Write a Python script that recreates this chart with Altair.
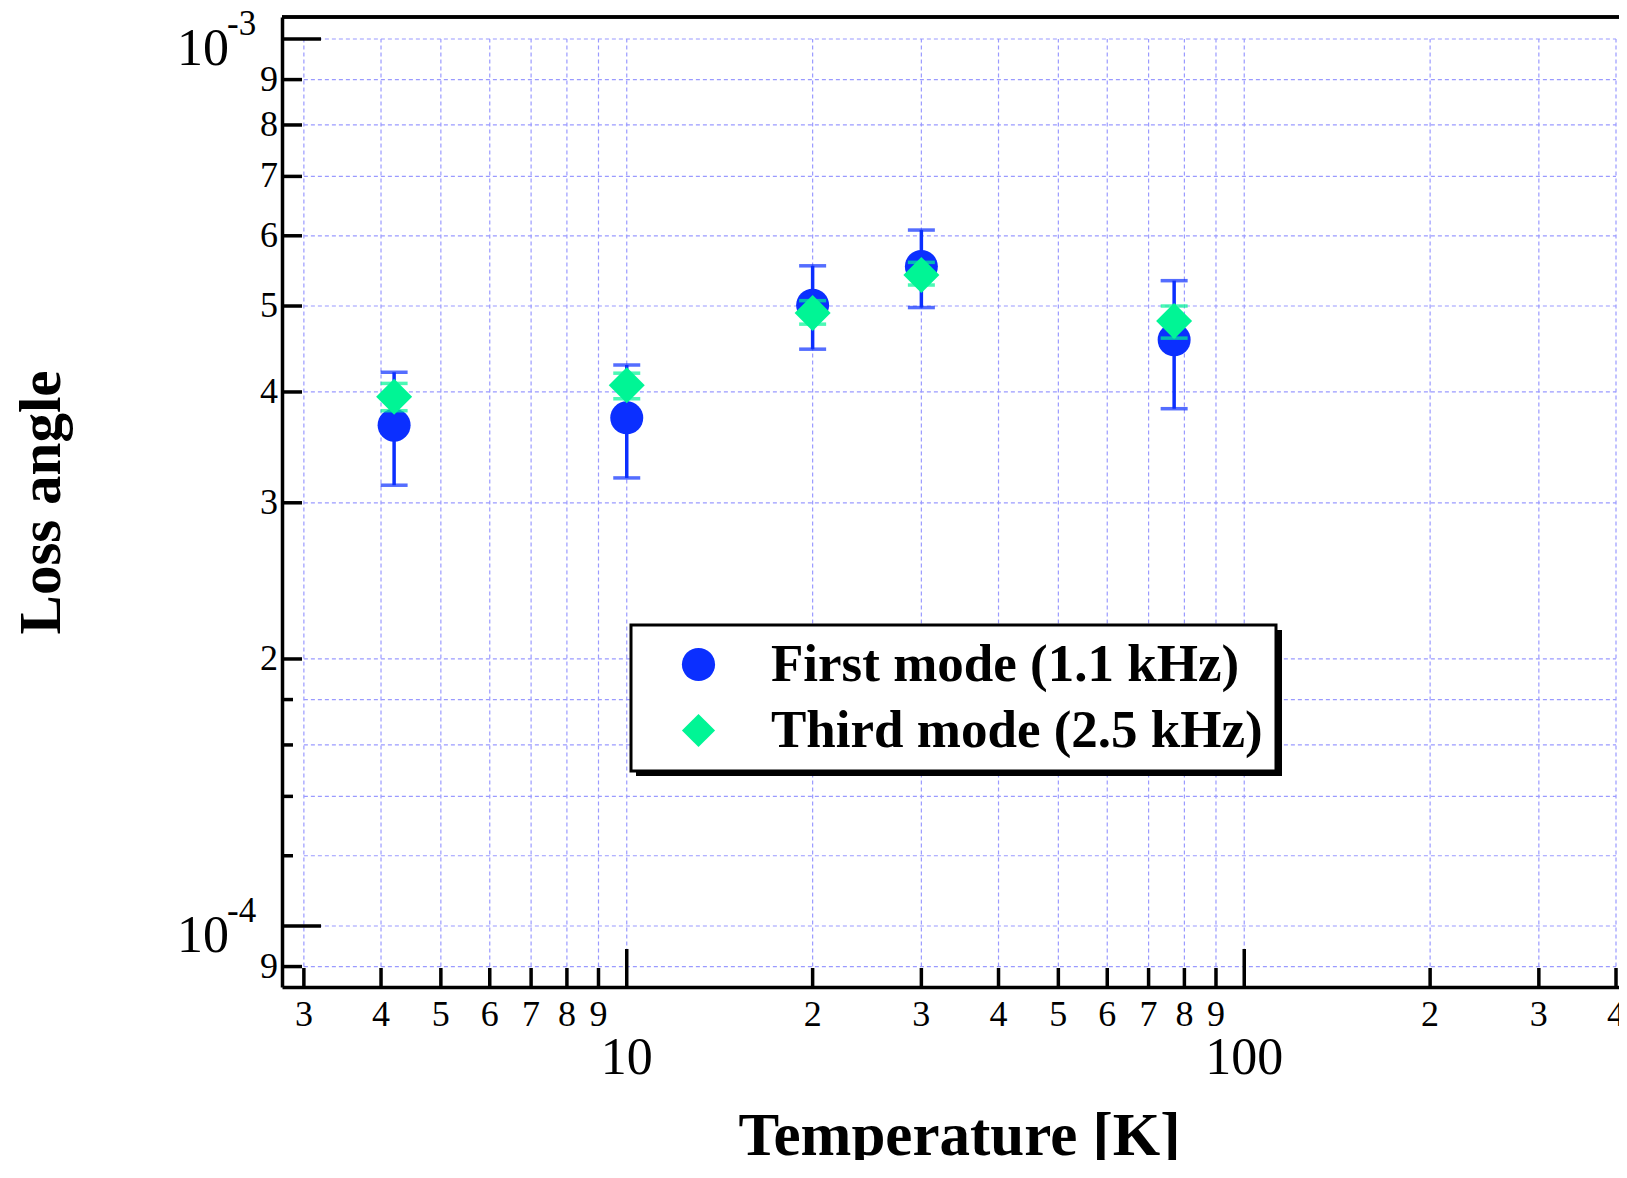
import altair as alt
import pandas as pd

# ---------------- data ----------------
temperature = [4.2, 10, 20, 30, 77]
first_mode = [3.67e-4, 3.74e-4, 5.01e-4, 5.54e-4, 4.58e-4]
first_upper = [4.21e-4, 4.29e-4, 5.55e-4, 6.09e-4, 5.34e-4]
first_lower = [3.14e-4, 3.20e-4, 4.47e-4, 4.98e-4, 3.83e-4]
third_mode = [3.95e-4, 4.07e-4, 4.91e-4, 5.42e-4, 4.81e-4]
third_upper = [4.09e-4, 4.20e-4, 5.07e-4, 5.60e-4, 5.00e-4]
third_lower = [3.81e-4, 3.93e-4, 4.77e-4, 5.28e-4, 4.60e-4]

series_names = ["First mode (1.1 kHz)", "Third mode (2.5 kHz)"]
series_colors = ["#0b2fff", "#00f595"]
series_shapes = ["circle", "diamond"]

x_minor_ticks = [3, 4, 5, 6, 7, 8, 9, 20, 30, 40, 50, 60, 70, 80, 90, 200, 300, 400]
x_minor_labels = ["3", "4", "5", "6", "7", "8", "9", "2", "3", "4", "5", "6", "7", "8", "9", "2", "3", "4"]
x_major_ticks = [10, 100]
x_major_labels = ["10", "100"]

y_minor_ticks = [9e-5, 2e-4, 3e-4, 4e-4, 5e-4, 6e-4, 7e-4, 8e-4, 9e-4]
y_minor_labels = ["9", "2", "3", "4", "5", "6", "7", "8", "9"]
y_small_ticks = [1.2e-4, 1.4e-4, 1.6e-4, 1.8e-4]
y_major_ticks = [1e-4, 1e-3]
y_major_exponents = ["-4", "-3"]

x_grid = [3, 4, 5, 6, 7, 8, 9, 10, 20, 30, 40, 50, 60, 70, 80, 90, 100, 200, 300, 400]
y_grid = [9e-5, 1e-4, 1.2e-4, 1.4e-4, 1.6e-4, 1.8e-4, 2e-4, 3e-4, 4e-4, 5e-4,
          6e-4, 7e-4, 8e-4, 9e-4, 1e-3]

# ---------------- layout ----------------
W, H = 1337, 970
FONT = "Liberation Serif"
GRID_COLOR = "#9a9aff"

xscale = alt.Scale(type="log", domain=[2.765, 404.5], nice=False, zero=False)
yscale = alt.Scale(type="log", domain=[8.535e-5, 1.0588e-3], nice=False, zero=False)

xaxis = alt.Axis(title="Temperature [K]", labels=False, ticks=False, grid=False,
                 domain=True, domainColor="black", domainWidth=3.5,
                 titleFont=FONT, titleFontSize=61, titleFontWeight="bold", titleColor="black",
                 titleX=677, titleY=167, titleBaseline="alphabetic", titleAlign="center")
yaxis = alt.Axis(title="Loss angle", labels=False, ticks=False, grid=False,
                 domain=True, domainColor="black", domainWidth=3.5,
                 titleFont=FONT, titleFontSize=59, titleFontWeight="bold", titleColor="black",
                 titleX=-241, titleY=485, titleAngle=270, titleBaseline="middle",
                 titleAlign="center")


def X(field):
    return alt.X(field, type="quantitative", scale=xscale, axis=xaxis)


def Y(field):
    return alt.Y(field, type="quantitative", scale=yscale, axis=yaxis)


legend = alt.Legend(title=None, orient="none", legendX=349, legendY=608,
                    direction="vertical", fillColor="white", strokeColor="black",
                    padding=13, cornerRadius=0,
                    labelFont=FONT, labelFontSize=53, labelFontWeight="bold",
                    labelColor="black", labelLimit=1000, symbolSize=1100,
                    symbolStrokeWidth=0, symbolOpacity=1, symbolOffset=28,
                    labelOffset=46, rowPadding=12)

color = alt.Color("series:N", scale=alt.Scale(domain=series_names, range=series_colors),
                  legend=legend)
shape = alt.Shape("series:N", scale=alt.Scale(domain=series_names, range=series_shapes),
                  legend=legend)

# ---------------- tables ----------------
first_df = pd.DataFrame({"T": temperature, "val": first_mode, "hi": first_upper,
                         "lo": first_lower, "series": series_names[0]})
third_df = pd.DataFrame({"T": temperature, "val": third_mode, "hi": third_upper,
                         "lo": third_lower, "series": series_names[1]})


def caps(df):
    return pd.DataFrame({"T": list(df["T"]) * 2,
                         "cap": list(df["hi"]) + list(df["lo"]),
                         "series": list(df["series"]) * 2})


xgrid_df = pd.DataFrame({"v": x_grid, "lo": [y_grid[0]] * len(x_grid),
                         "hi": [y_grid[-1]] * len(x_grid)})
ygrid_df = pd.DataFrame({"v": y_grid, "lo": [x_grid[0]] * len(y_grid),
                         "hi": [x_grid[-1]] * len(y_grid)})
xminor_df = pd.DataFrame({"v": x_minor_ticks, "label": x_minor_labels})
xmajor_df = pd.DataFrame({"v": x_major_ticks, "label": x_major_labels})
yminor_df = pd.DataFrame({"v": y_minor_ticks, "label": y_minor_labels})
ysmall_df = pd.DataFrame({"v": y_small_ticks})
ymajor_df = pd.DataFrame({"v": y_major_ticks, "label": ["10"] * len(y_major_ticks),
                          "exp": y_major_exponents})

# ---------------- layers ----------------
grid_v = alt.Chart(xgrid_df).mark_rule(color=GRID_COLOR, strokeWidth=1.2, strokeDash=[4, 3]).encode(
    x=X("v"), y=Y("lo"), y2="hi")
grid_h = alt.Chart(ygrid_df).mark_rule(color=GRID_COLOR, strokeWidth=1.2, strokeDash=[4, 3]).encode(
    y=Y("v"), x=X("lo"), x2="hi")

TW = 3.5
xtick_minor = alt.Chart(xminor_df).mark_rule(color="black", strokeWidth=TW).encode(
    x=X("v"), y=alt.value(H), y2=alt.value(H - 19))
xtick_major = alt.Chart(xmajor_df).mark_rule(color="black", strokeWidth=TW).encode(
    x=X("v"), y=alt.value(H), y2=alt.value(H - 38))
ytick_minor = alt.Chart(yminor_df).mark_rule(color="black", strokeWidth=TW).encode(
    y=Y("v"), x=alt.value(0), x2=alt.value(20))
ytick_small = alt.Chart(ysmall_df).mark_rule(color="black", strokeWidth=TW).encode(
    y=Y("v"), x=alt.value(0), x2=alt.value(11))
ytick_major = alt.Chart(ymajor_df).mark_rule(color="black", strokeWidth=TW).encode(
    y=Y("v"), x=alt.value(0), x2=alt.value(39))

top_frame = alt.Chart(ymajor_df).mark_rule(color="black", strokeWidth=3.5).encode(
    x=alt.value(0), x2=alt.value(W), y=alt.value(0))

xlab_minor = alt.Chart(xminor_df).mark_text(font=FONT, fontSize=36, color="black",
                                            align="center", baseline="alphabetic").encode(
    x=X("v"), y=alt.value(H + 39), text="label:N")
xlab_major = alt.Chart(xmajor_df).mark_text(font=FONT, fontSize=52, color="black",
                                            align="center", baseline="alphabetic").encode(
    x=X("v"), y=alt.value(H + 87), text="label:N")
ylab_minor = alt.Chart(yminor_df).mark_text(font=FONT, fontSize=36, color="black",
                                            align="right", baseline="middle").encode(
    y=Y("v"), x=alt.value(-4), text="label:N")
ylab_major = alt.Chart(ymajor_df).mark_text(font=FONT, fontSize=52, color="black",
                                            align="right", baseline="alphabetic", dy=26).encode(
    y=Y("v"), x=alt.value(-53), text="label:N")
ylab_exp = alt.Chart(ymajor_df).mark_text(font=FONT, fontSize=35, color="black",
                                          align="left", baseline="alphabetic", dy=-4).encode(
    y=Y("v"), x=alt.value(-55), text="exp:N")

shadow = alt.Chart(ymajor_df).mark_rect(color="black").encode(
    x=alt.value(354), x2=alt.value(1000), y=alt.value(613), y2=alt.value(759))


def series_layers(df, size):
    stem = alt.Chart(df).mark_rule(strokeWidth=3.5).encode(
        x=X("T"), y=Y("lo"), y2="hi", color=color)
    cap = alt.Chart(caps(df)).mark_tick(orient="horizontal", size=27, thickness=3.5).encode(
        x=X("T"), y=Y("cap"), color=color)
    pts = alt.Chart(df).mark_point(filled=True, size=size, opacity=1, strokeWidth=0).encode(
        x=X("T"), y=Y("val"), color=color, shape=shape)
    return [stem, cap, pts]


layers = ([grid_v, grid_h, xtick_minor, xtick_major, ytick_minor, ytick_small, ytick_major,
           top_frame, shadow]
          + series_layers(first_df, 1089) + series_layers(third_df, 1296)
          + [xlab_minor, xlab_major, ylab_minor, ylab_major, ylab_exp])

chart = alt.layer(*layers).properties(
    width=W, height=H,
    padding={"left": 274, "top": 9, "right": 0, "bottom": 173},
    autosize=alt.AutoSizeParams(type="none"),
    background="white",
).configure_view(stroke=None).configure_legend(strokeWidth=3)

chart.save("out.html", embed_options={"renderer": "svg", "actions": False})
